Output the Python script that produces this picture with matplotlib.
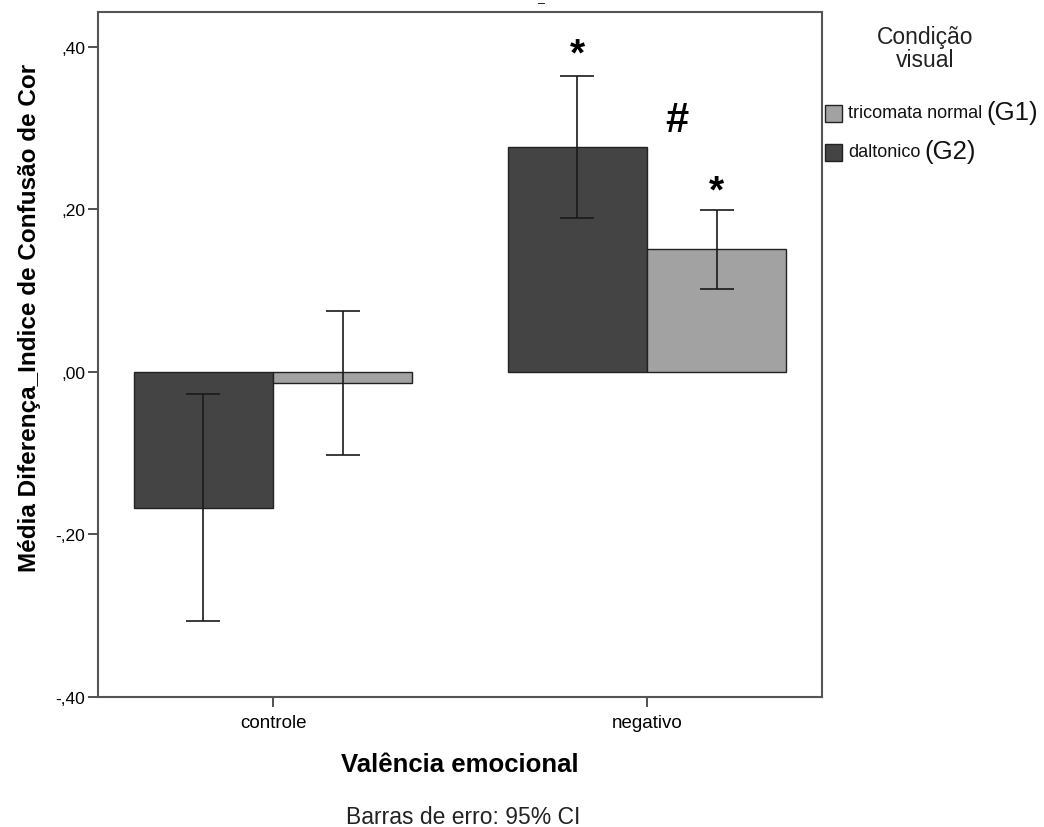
import numpy as np
import matplotlib.pyplot as plt
from matplotlib.patches import Rectangle

plt.rcParams['font.family'] = ['Liberation Sans', 'DejaVu Sans']

# ===== dados =====
categorias = ['controle', 'negativo']
g2_media = [-0.167, 0.277]     # daltonico (G2)
g2_inf = [-0.306, 0.190]
g2_sup = [-0.027, 0.364]
g1_media = [-0.014, 0.151]     # tricomata normal (G1)
g1_inf = [-0.102, 0.102]
g1_sup = [0.075, 0.199]
yticks = [-0.40, -0.20, 0.00, 0.20, 0.40]
ytick_labels = ['-,40', '-,20', ',00', ',20', ',40']

cor_escura = '#444444'
cor_clara = '#a2a2a2'

W, H = 1044, 828
fig = plt.figure(figsize=(W/100, H/100), dpi=100)
ax = fig.add_axes([98/W, 1 - 698/H, (822-98)/W, (698-13)/H])

x = np.arange(len(categorias))
w = 0.372

ax.bar(x - w/2, g2_media, w, color=cor_escura, edgecolor='#222222', linewidth=1.0, zorder=2)
ax.bar(x + w/2, g1_media, w, color=cor_clara, edgecolor='#222222', linewidth=1.0, zorder=2)

for off, m, lo, hi in [(-w/2, g2_media, g2_inf, g2_sup), (w/2, g1_media, g1_inf, g1_sup)]:
    m = np.array(m)
    err = [m - np.array(lo), np.array(hi) - m]
    ax.errorbar(x + off, m, yerr=err, fmt='none', ecolor='#1a1a1a',
                elinewidth=1.2, capsize=12.2, capthick=1.2, zorder=3)

# marcas de significancia
ax.text(x[1] - w/2, g2_sup[1] + 0.027, '*', ha='center', va='center',
        fontsize=28, fontweight='bold')
ax.text(x[1] + w/2, g1_sup[1] + 0.023, '*', ha='center', va='center',
        fontsize=28, fontweight='bold')
ax.text(1.08, 0.31, '#', ha='center', va='center', fontsize=30, fontweight='bold')

ax.set_xlim(-0.468, 1.468)
ax.set_ylim(-0.40, 0.443)
ax.set_xticks(x)
ax.set_xticklabels(categorias, fontsize=13.5)
ax.set_yticks(yticks)
ax.set_yticklabels(ytick_labels, fontsize=12.5)
ax.tick_params(axis='both', direction='out', length=7, width=1.2, color='#333333')
ax.tick_params(axis='x', pad=5)
ax.tick_params(axis='y', pad=2)

for s in ax.spines.values():
    s.set_color('#555555')
    s.set_linewidth(1.5)

fig.text(30/W, 1 - 318/H, 'Média Diferença_Indice de Confusão de Cor', rotation=90,
         ha='center', va='center', fontsize=17.5, fontweight='bold')
fig.text(460/W, 1 - 765/H, 'Valência emocional', ha='center', va='center',
         fontsize=18.5, fontweight='bold')
fig.text(463/W, 1 - 818/H, 'Barras de erro: 95% CI', ha='center', va='center',
         fontsize=16.5, color='#222222')
fig.text(542/W, 1 - 4/H, '–', ha='center', va='center', fontsize=9)

# legenda
fig.text(925/W, 1 - 49/H, 'Condição\nvisual', ha='center', va='center',
         fontsize=16.5, color='#222222', linespacing=0.95)
itens = [('tricomata normal', '(G1)', cor_clara, 114),
         ('daltonico', '(G2)', cor_escura, 153)]
fig.canvas.draw()
r = fig.canvas.get_renderer()
for nome, grupo, cor, yc in itens:
    fig.patches.append(Rectangle((825/W, 1 - (yc + 8.5)/H), 17/W, 17/H,
                                 transform=fig.transFigure, facecolor=cor,
                                 edgecolor='#222222', linewidth=1.0))
    t = fig.text(848/W, 1 - yc/H, nome, ha='left', va='center', fontsize=13,
                 color='#111111')
    bb = t.get_window_extent(renderer=r)
    fig.text((bb.x1 + 4)/W, 1 - (yc - 1)/H, grupo, ha='left', va='center',
             fontsize=18.5, color='#111111')

fig.savefig('out.png', dpi=100)
